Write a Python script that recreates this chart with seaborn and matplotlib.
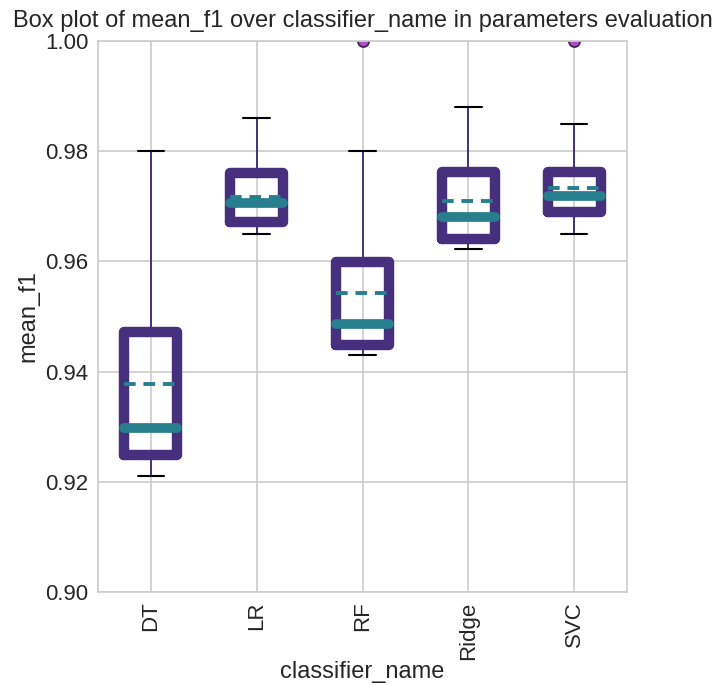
import matplotlib
matplotlib.use("Agg")
import matplotlib.pyplot as plt
import seaborn as sns

classifiers = ["DT", "LR", "RF", "Ridge", "SVC"]
whisker_low = [0.921, 0.965, 0.943, 0.9622, 0.965]
q1 = [0.9249, 0.9672, 0.9448, 0.9641, 0.9690]
median = [0.9297, 0.9706, 0.9486, 0.9681, 0.9719]
q3 = [0.9472, 0.9760, 0.9599, 0.9762, 0.9762]
whisker_high = [0.980, 0.986, 0.980, 0.988, 0.985]
mean = [0.9378, 0.9717, 0.9543, 0.9710, 0.9733]
fliers = [[], [], [1.0], [], [1.0]]

sns.set_style("whitegrid")
plt.rcParams["font.family"] = ["Liberation Sans", "DejaVu Sans"]

box_color = "#46307d"
med_color = "#277f8e"

stats = []
for i, name in enumerate(classifiers):
    stats.append(dict(label=name, whislo=whisker_low[i], q1=q1[i], med=median[i],
                      q3=q3[i], whishi=whisker_high[i], mean=mean[i], fliers=fliers[i]))

fig, ax = plt.subplots(figsize=(7.2, 6.85), dpi=100)
fig.subplots_adjust(left=0.136, right=0.871, top=0.94, bottom=0.136)

ax.bxp(stats, widths=0.5, showmeans=True, meanline=True,
       boxprops=dict(color=box_color, linewidth=7.5, solid_joinstyle="round"),
       medianprops=dict(color=med_color, linewidth=7, solid_capstyle="round"),
       meanprops=dict(color=med_color, linewidth=2.8, linestyle=(0, (3, 2))),
       whiskerprops=dict(color=box_color, linewidth=1.4),
       capprops=dict(color="black", linewidth=1.5),
       flierprops=dict(marker="o", markerfacecolor="#b04fc4", markeredgecolor="#3a1f4a",
                       markersize=8, markeredgewidth=1.2))

ax.set_ylim(0.90, 1.00)
ax.set_xlim(0.5, 5.5)
ax.set_yticks([0.90, 0.92, 0.94, 0.96, 0.98, 1.00])
ax.set_yticklabels([f"{v:.2f}" for v in [0.90, 0.92, 0.94, 0.96, 0.98, 1.00]])
ax.tick_params(axis="x", labelrotation=90)
ax.tick_params(labelsize=16, colors="#262626")
for s in ax.spines.values():
    s.set_color("#cccccc")
    s.set_linewidth(1.2)
ax.grid(True, color="#cccccc", linewidth=1.2)
ax.set_axisbelow(True)
ax.set_xlabel("classifier_name", fontsize=17, color="#262626", labelpad=1)
ax.set_ylabel("mean_f1", fontsize=17, color="#262626")
ax.set_title("Box plot of mean_f1 over classifier_name in parameters evaluation",
             fontsize=17, color="#262626", pad=10)

fig.savefig("out.png", dpi=100)
